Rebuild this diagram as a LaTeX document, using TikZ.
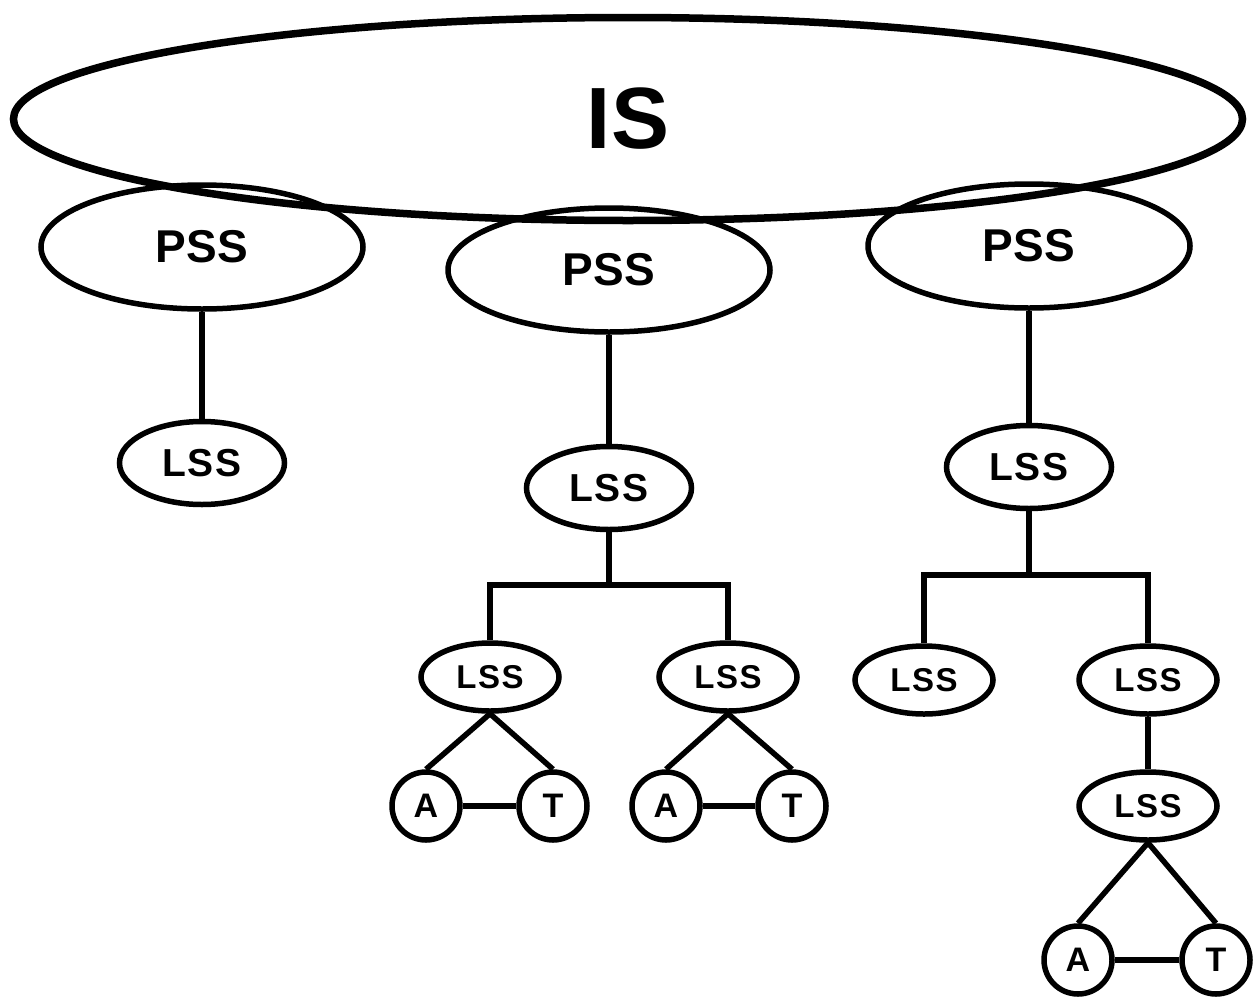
\documentclass[tikz,border=0pt]{standalone}
\usepackage{fontspec}
\setmainfont{Liberation Sans}
\newfontfamily\lssfont{Liberation Sans}[LetterSpace=5]
\usepackage{tikz}
\usetikzlibrary{shapes.geometric}

\begin{document}
\begin{tikzpicture}[x=1pt,y=1pt,yscale=-1,
  bigell/.style={draw,ellipse,line width=7.5pt,inner sep=0pt,minimum width=1229pt,minimum height=203pt,font=\fontsize{87}{90}\bfseries\selectfont},
  pssell/.style={draw,ellipse,line width=5.5pt,inner sep=0pt,minimum width=322pt,minimum height=124pt,font=\fontsize{46}{50}\bfseries\selectfont},
  lssbig/.style={draw,ellipse,line width=5.5pt,inner sep=0pt,minimum width=165pt,minimum height=83pt,font=\lssfont\fontsize{39}{42}\bfseries\selectfont},
  lsssmall/.style={draw,ellipse,line width=5.5pt,inner sep=0pt,minimum width=138pt,minimum height=68pt,font=\lssfont\fontsize{33}{36}\bfseries\selectfont},
  atnode/.style={draw,circle,line width=5.5pt,inner sep=0pt,minimum size=68pt,font=\fontsize{34}{38}\bfseries\selectfont},
  link/.style={line width=5.5pt}]
\useasboundingbox (0,0) rectangle (1255,996);

% Ellipses
\node [bigell] (is) at (628,119) {IS};
\node [pssell] (pss1) at (202,247) {PSS};
\node [pssell] (pss2) at (609,270) {PSS};
\node [pssell] (pss3) at (1029,246) {PSS};

\node [lssbig] (lss1) at (202,463) {LSS};
\node [lssbig] (lss2) at (609,488) {LSS};
\node [lssbig] (lss4) at (1029,467) {LSS};

\node [lsssmall] (lss3a) at (490,677) {LSS};
\node [lsssmall] (lss3b) at (728,677) {LSS};
\node [lsssmall] (lss5) at (924,680) {LSS};
\node [lsssmall] (lss6) at (1148,680) {LSS};
\node [lsssmall] (lss7) at (1148,806) {LSS};

% Circles
\node [atnode] (a1) at (426,806) {A};
\node [atnode] (t1) at (553,806) {T};
\node [atnode] (a2) at (666,806) {A};
\node [atnode] (t2) at (792,806) {T};
\node [atnode] (a3) at (1078,960) {A};
\node [atnode] (t3) at (1216,960) {T};

% Bar points
\coordinate (bar2) at (609,585);
\coordinate (bar4) at (1029,575);

% Straight Lines
\draw [link] (pss1) -- (lss1);
\draw [link] (pss2) -- (lss2);
\draw [link] (pss3) -- (lss4);

\draw [link] (lss2.south) -- (bar2);
\draw [link] (lss3a.north) |- (bar2) -| (lss3b.north);
\draw [link] (lss4.south) -- (bar4);
\draw [link] (lss5.north) |- (bar4) -| (lss6.north);
\draw [link] (lss6) -- (lss7);

\draw [link] (lss3a.south) -- (a1.north);
\draw [link] (lss3a.south) -- (t1.north);
\draw [link] (a1) -- (t1);
\draw [link] (lss3b.south) -- (a2.north);
\draw [link] (lss3b.south) -- (t2.north);
\draw [link] (a2) -- (t2);
\draw [link] (lss7.south) -- (a3.north);
\draw [link] (lss7.south) -- (t3.north);
\draw [link] (a3) -- (t3);

\end{tikzpicture}
\end{document}
